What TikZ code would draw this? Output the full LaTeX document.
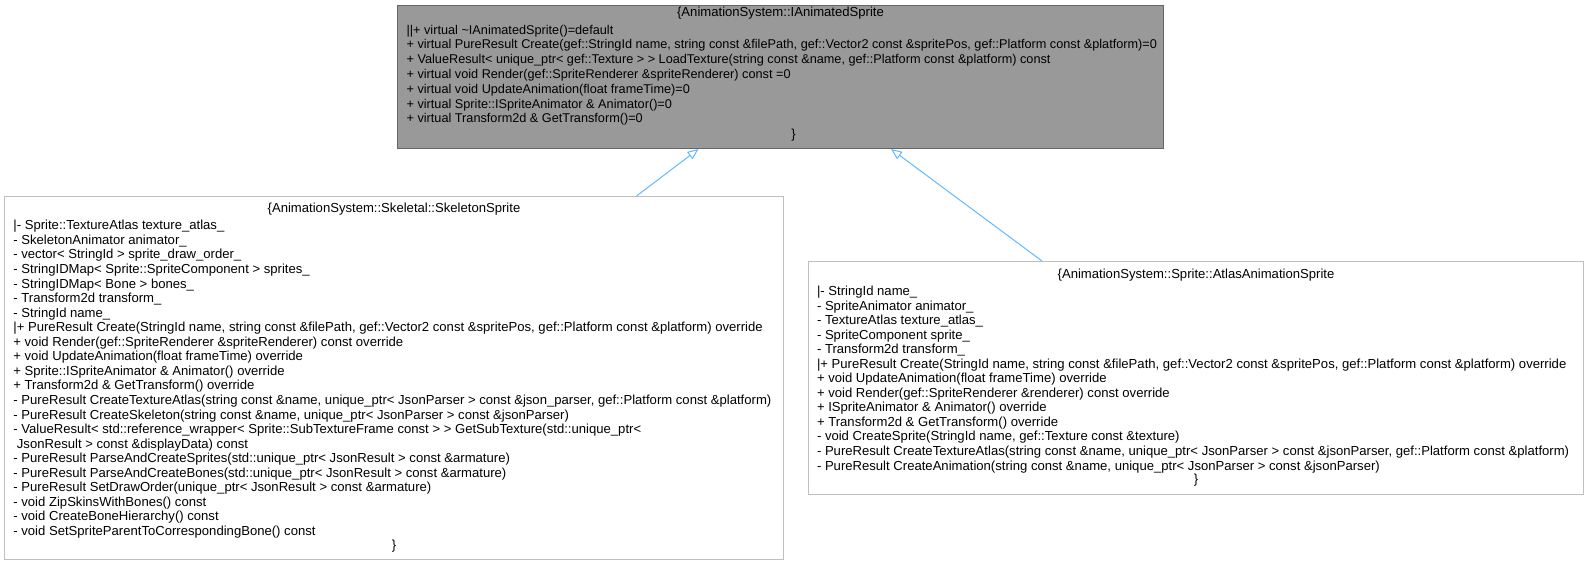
\documentclass[tikz,border=0pt]{standalone}
\usepackage{fontspec}
\setmainfont{Liberation Sans}
\usepackage{tikz}
\usetikzlibrary{arrows.meta,positioning,calc}
\definecolor{rootfill}{HTML}{999999}
\definecolor{rootline}{HTML}{666666}
\definecolor{classline}{HTML}{BFBFBF}
\definecolor{inhblue}{HTML}{63B8FF}
\tikzset{
  classbox/.style={draw=classline,fill=white,line width=1pt,inner sep=0pt,anchor=north west},
  rootbox/.style={classbox,draw=rootline,fill=rootfill},
  memberfont/.style={font=\fontsize{13.1}{#1}\selectfont},
  memberfont/.default=14.7,
  members/.style={memberfont=#1,inner sep=0pt,align=left,anchor=north west},
  members/.default=14.7,
  classtitle/.style={memberfont,inner sep=0pt,anchor=base},
  inherits/.style={draw=inhblue,line width=1pt,-{Triangle[open,length=11pt,width=9pt]}}
}

\begin{document}
\begin{tikzpicture}[x=1pt,y=-1pt]
  \useasboundingbox (0,0) rectangle (1589,564);

  % base class
  \node[rootbox,minimum width=766pt,minimum height=143pt] (ianim) at (397,5) {};
  \node[classtitle] (ianim-title) at ($(ianim.north)+(0,12)$) {\{AnimationSystem::IAnimatedSprite};
  \node[members,font=\fontsize{12.7}{14.8}\selectfont] (ianim-ops) at ($(ianim.north west)+(9.4,18.6)$) {%
    \strut||+ virtual \textasciitilde IAnimatedSprite()=default\\
    + virtual PureResult Create(gef::StringId name, string const \&filePath, gef::Vector2 const \&spritePos, gef::Platform const \&platform)=0\\
    + ValueResult< unique\_ptr< gef::Texture > > LoadTexture(string const \&name, gef::Platform const \&platform) const\\
    + virtual void Render(gef::SpriteRenderer \&spriteRenderer) const =0\\
    + virtual void UpdateAnimation(float frameTime)=0\\
    + virtual Sprite::ISpriteAnimator \& Animator()=0\\
    + virtual Transform2d \& GetTransform()=0};
  \node[classtitle] (ianim-end) at ($(ianim.north)+(13,133.5)$) {\}};

  % skeletal sprite
  \node[classbox,minimum width=779pt,minimum height=363pt] (skel) at (4,196) {};
  \node[classtitle] (skel-title) at ($(skel.north)+(0,16.5)$) {\{AnimationSystem::Skeletal::SkeletonSprite};
  \node[members=14.55] (skel-ops) at ($(skel.north west)+(9.2,23.5)$) {%
    \strut|- Sprite::TextureAtlas texture\_atlas\_\\
    - SkeletonAnimator animator\_\\
    - vector< StringId > sprite\_draw\_order\_\\
    - StringIDMap< Sprite::SpriteComponent > sprites\_\\
    - StringIDMap< Bone > bones\_\\
    - Transform2d transform\_\\
    - StringId name\_\\
    |+ PureResult Create(StringId name, string const \&filePath, gef::Vector2 const \&spritePos, gef::Platform const \&platform) override\\
    + void Render(gef::SpriteRenderer \&spriteRenderer) const override\\
    + void UpdateAnimation(float frameTime) override\\
    + Sprite::ISpriteAnimator \& Animator() override\\
    + Transform2d \& GetTransform() override\\
    - PureResult CreateTextureAtlas(string const \&name, unique\_ptr< JsonParser > const \&json\_parser, gef::Platform const \&platform)\\
    - PureResult CreateSkeleton(string const \&name, unique\_ptr< JsonParser > const \&jsonParser)\\
    - ValueResult< std::reference\_wrapper< Sprite::SubTextureFrame const > > GetSubTexture(std::unique\_ptr<\\
    \hspace*{3.5pt}JsonResult > const \&displayData) const\\
    - PureResult ParseAndCreateSprites(std::unique\_ptr< JsonResult > const \&armature)\\
    - PureResult ParseAndCreateBones(std::unique\_ptr< JsonResult > const \&armature)\\
    - PureResult SetDrawOrder(unique\_ptr< JsonResult > const \&armature)\\
    - void ZipSkinsWithBones() const\\
    - void CreateBoneHierarchy() const\\
    - void SetSpriteParentToCorrespondingBone() const};
  \node[classtitle] (skel-end) at ($(skel.north)+(0,353.5)$) {\}};

  % atlas sprite
  \node[classbox,minimum width=775pt,minimum height=233pt] (atlas) at (808,261) {};
  \node[classtitle] (atlas-title) at ($(atlas.north)+(0,17.3)$) {\{AnimationSystem::Sprite::AtlasAnimationSprite};
  \node[members=14.53] (atlas-ops) at ($(atlas.north west)+(8.8,24.3)$) {%
    \strut|- StringId name\_\\
    - SpriteAnimator animator\_\\
    - TextureAtlas texture\_atlas\_\\
    - SpriteComponent sprite\_\\
    - Transform2d transform\_\\
    |+ PureResult Create(StringId name, string const \&filePath, gef::Vector2 const \&spritePos, gef::Platform const \&platform) override\\
    + void UpdateAnimation(float frameTime) override\\
    + void Render(gef::SpriteRenderer \&renderer) const override\\
    + ISpriteAnimator \& Animator() override\\
    + Transform2d \& GetTransform() override\\
    - void CreateSprite(StringId name, gef::Texture const \&texture)\\
    - PureResult CreateTextureAtlas(string const \&name, unique\_ptr< JsonParser > const \&jsonParser, gef::Platform const \&platform)\\
    - PureResult CreateAnimation(string const \&name, unique\_ptr< JsonParser > const \&jsonParser)};
  \node[classtitle] (atlas-end) at ($(atlas.north)+(0,222)$) {\}};

  % inheritance
  \coordinate (skel-up) at ($(skel.north west)+(632.5,0)$);
  \coordinate (atlas-up) at ($(atlas.north west)+(234,0)$);
  \coordinate (ianim-left) at ($(ianim.south west)+(301.5,0)$);
  \coordinate (ianim-right) at ($(ianim.south west)+(494,0)$);
  \draw[inherits] (skel-up) -- (ianim-left);
  \draw[inherits] (atlas-up) -- (ianim-right);
\end{tikzpicture}
\end{document}
